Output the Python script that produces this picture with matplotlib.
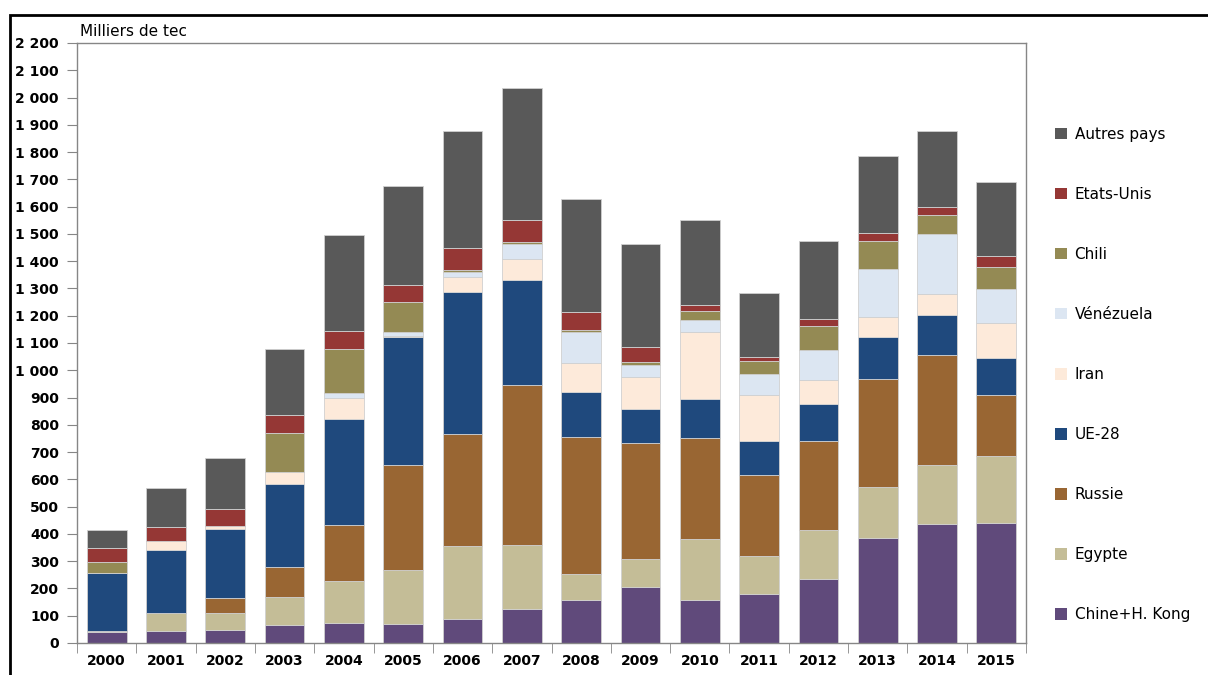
import numpy as np
import matplotlib
matplotlib.use("Agg")
import matplotlib.pyplot as plt
from matplotlib.patches import Rectangle, Patch
from matplotlib.ticker import FuncFormatter, MultipleLocator

plt.rcParams.update({"font.family": "DejaVu Sans"})

years = [str(y) for y in range(2000, 2016)]

# milliers de tec
chine = [40, 44, 49, 67, 73, 71, 88, 125, 159, 205, 159, 181, 236, 386, 437, 441]
egypte = [4, 66, 62, 101, 154, 195, 266, 234, 93, 103, 222, 137, 177, 186, 216, 243]
russie = [0, 0, 53, 111, 204, 387, 411, 586, 502, 425, 371, 297, 329, 397, 404, 224]
ue28 = [211, 230, 254, 303, 389, 468, 522, 385, 166, 126, 141, 127, 134, 152, 144, 138]
iran = [2, 35, 12, 45, 80, 6, 55, 78, 105, 115, 247, 168, 87, 74, 79, 128]
venezuela = [0, 0, 0, 0, 15, 15, 18, 54, 117, 46, 44, 78, 112, 175, 220, 123]
chili = [40, 0, 0, 143, 162, 108, 6, 8, 4, 10, 34, 45, 86, 105, 71, 83]
etats_unis = [50, 50, 61, 65, 66, 64, 84, 82, 66, 56, 21, 14, 27, 30, 28, 40]
autres = [68, 145, 189, 243, 354, 363, 429, 484, 416, 376, 313, 235, 287, 282, 278, 272]

series = [
    ("Chine+H. Kong", chine, "#604A7B"),
    ("Egypte", egypte, "#C4BD97"),
    ("Russie", russie, "#996633"),
    ("UE-28", ue28, "#1F497D"),
    ("Iran", iran, "#FDEADA"),
    ("Vénézuela", venezuela, "#DCE6F2"),
    ("Chili", chili, "#948A54"),
    ("Etats-Unis", etats_unis, "#953735"),
    ("Autres pays", autres, "#595959"),
]

fig = plt.figure(figsize=(12.08, 6.75), dpi=100)
ax = fig.add_axes([77 / 1208, 1 - 643 / 675, (1026 - 77) / 1208, 600 / 675])

x = np.arange(len(years))
bottom = np.zeros(len(years))
for name, vals, col in series:
    ax.bar(x, vals, 0.67, bottom=bottom, color=col, edgecolor="#d0d0d0",
           linewidth=0.6, label=name)
    bottom += np.array(vals)

ax.set_xlim(-0.5, len(years) - 0.5)
ax.set_ylim(0, 2200)
ax.yaxis.set_major_locator(MultipleLocator(100))
ax.yaxis.set_major_formatter(FuncFormatter(lambda v, p: f"{int(v):,}".replace(",", " ")))
ax.set_xticks(x)
ax.set_xticklabels(years)
ax.set_xticks(np.arange(-0.5, len(years)), minor=True)
ax.tick_params(axis="x", which="major", length=0, pad=8)
ax.tick_params(axis="x", which="minor", length=7, color="#868686", direction="out")
ax.tick_params(axis="y", length=7, color="#868686", direction="out", pad=6)
for lab in ax.get_xticklabels() + ax.get_yticklabels():
    lab.set_fontweight("bold")
    lab.set_fontsize(10)
for s in ax.spines.values():
    s.set_color("#868686")
    s.set_linewidth(1)

fig.text(80 / 1208, 1 - 31 / 675, "Milliers de tec", fontsize=11, va="center")

handles = [Patch(facecolor=col, edgecolor="none") for _, _, col in series][::-1]
labels = [name for name, _, _ in series][::-1]
fig.legend(handles, labels, loc="upper left", bbox_to_anchor=(1041 / 1208, 1 - 113 / 675),
           frameon=False, fontsize=11, handlelength=0.8, handleheight=0.8,
           handletextpad=0.5, labelspacing=2.95)

# cadre noir autour du graphique
fig.add_artist(Rectangle((10 / 1208, -0.1), 1.2, 1.1 - 15 / 675, transform=fig.transFigure,
                         fill=False, edgecolor="black", linewidth=2, clip_on=False))

fig.savefig("out.png", dpi=100)
